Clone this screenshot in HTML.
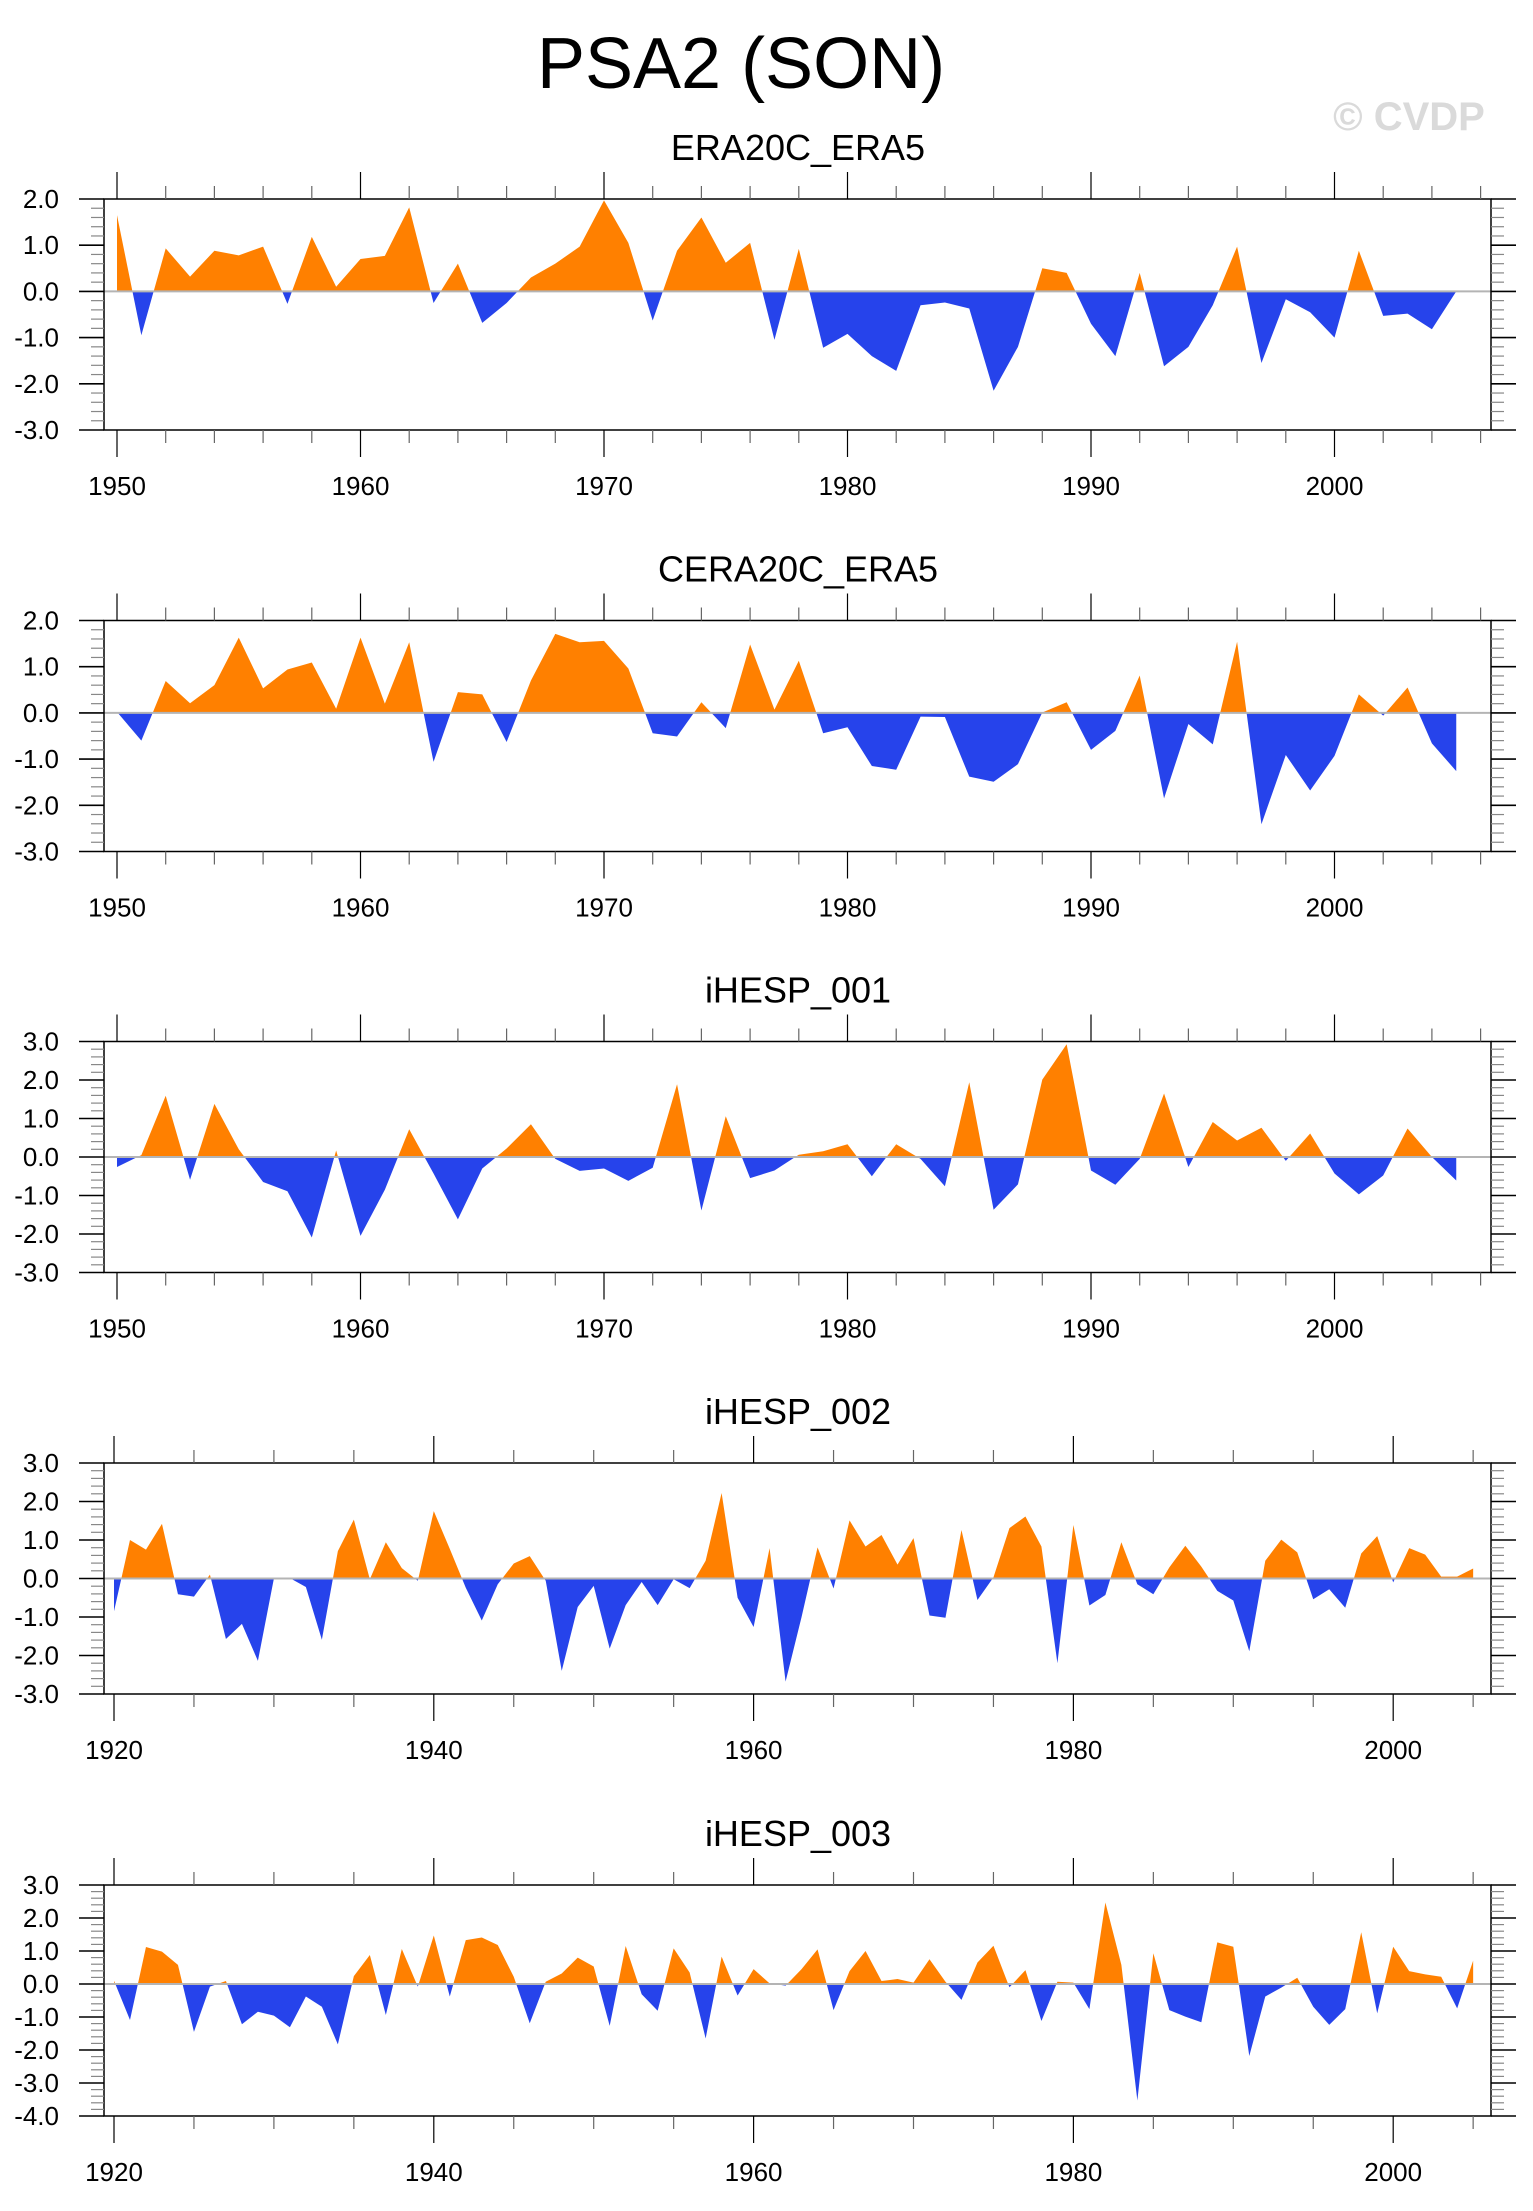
<!DOCTYPE html>
<html><head><meta charset="utf-8"><style>
html,body{margin:0;padding:0;background:#fff;}
svg{display:block;}
text{font-family:"Liberation Sans",Arial,sans-serif;}
</style></head><body>
<svg id="chart" width="1533" height="2211" viewBox="0 0 1533 2211" xmlns="http://www.w3.org/2000/svg">
<text x="741" y="88" font-size="72" text-anchor="middle" fill="#000">PSA2 (SON)</text>
<text x="1409" y="130" font-size="40" font-weight="bold" text-anchor="middle" fill="#dadada">© CVDP</text>
</svg>
<script>
const years1950 = [1950,1951,1952,1953,1954,1955,1956,1957,1958,1959,1960,1961,1962,1963,1964,1965,1966,1967,1968,1969,1970,1971,1972,1973,1974,1975,1976,1977,1978,1979,1980,1981,1982,1983,1984,1985,1986,1987,1988,1989,1990,1991,1992,1993,1994,1995,1996,1997,1998,1999,2000,2001,2002,2003,2004,2005];
const era20cValues = [1.65,-0.95,0.93,0.32,0.88,0.78,0.97,-0.27,1.18,0.1,0.7,0.77,1.82,-0.25,0.6,-0.68,-0.25,0.3,0.6,0.97,1.97,1.05,-0.63,0.88,1.6,0.62,1.05,-1.05,0.92,-1.22,-0.92,-1.4,-1.72,-0.3,-0.24,-0.37,-2.15,-1.2,0.5,0.4,-0.7,-1.4,0.4,-1.62,-1.2,-0.3,0.97,-1.55,-0.17,-0.45,-1.0,0.88,-0.53,-0.48,-0.82,0.0];
const cera20cValues = [0.02,-0.6,0.69,0.21,0.6,1.63,0.53,0.94,1.09,0.09,1.63,0.2,1.53,-1.06,0.45,0.4,-0.63,0.7,1.71,1.53,1.56,0.96,-0.44,-0.51,0.23,-0.33,1.48,0.07,1.13,-0.44,-0.31,-1.15,-1.23,-0.08,-0.09,-1.38,-1.49,-1.11,0.01,0.23,-0.8,-0.39,0.81,-1.85,-0.24,-0.68,1.54,-2.41,-0.91,-1.68,-0.93,0.4,-0.06,0.55,-0.66,-1.26];
const ihesp001Values = [-0.26,0.05,1.59,-0.59,1.38,0.2,-0.65,-0.89,-2.09,0.17,-2.05,-0.85,0.72,-0.43,-1.62,-0.3,0.22,0.85,-0.05,-0.36,-0.3,-0.62,-0.28,1.89,-1.39,1.06,-0.55,-0.35,0.06,0.15,0.33,-0.5,0.33,-0.05,-0.76,1.94,-1.37,-0.71,2.01,2.93,-0.35,-0.72,-0.05,1.65,-0.26,0.91,0.43,0.76,-0.1,0.61,-0.43,-0.97,-0.48,0.74,0.0,-0.61];
const years1920 = [];
for (let y = 1920; y <= 2005; y++) years1920.push(y);
const ihesp002Values = [-0.85,1.0,0.75,1.42,-0.41,-0.47,0.1,-1.57,-1.18,-2.14,0.0,0.01,-0.22,-1.59,0.71,1.53,-0.02,0.94,0.27,-0.06,1.75,0.77,-0.24,-1.09,-0.15,0.39,0.58,-0.06,-2.4,-0.74,-0.19,-1.82,-0.69,-0.09,-0.69,-0.02,-0.25,0.46,2.22,-0.5,-1.26,0.79,-2.68,-1.0,0.81,-0.26,1.51,0.83,1.13,0.36,1.05,-0.96,-1.02,1.26,-0.56,0.03,1.31,1.61,0.83,-2.2,1.39,-0.7,-0.43,0.94,-0.15,-0.41,0.29,0.85,0.31,-0.32,-0.57,-1.89,0.46,1.01,0.68,-0.54,-0.28,-0.76,0.65,1.1,-0.1,0.79,0.62,0.05,0.05,0.26];
const ihesp003Values = [0.1,-1.09,1.12,0.98,0.58,-1.45,-0.08,0.09,-1.22,-0.84,-0.96,-1.31,-0.38,-0.69,-1.83,0.24,0.88,-0.94,1.06,-0.08,1.47,-0.38,1.33,1.41,1.18,0.22,-1.19,0.07,0.32,0.8,0.53,-1.27,1.15,-0.31,-0.81,1.08,0.35,-1.65,0.83,-0.35,0.45,0.02,-0.05,0.45,1.05,-0.79,0.39,1.0,0.09,0.15,0.04,0.75,0.07,-0.48,0.65,1.16,-0.1,0.42,-1.12,0.07,0.04,-0.76,2.47,0.58,-3.53,0.93,-0.79,-0.99,-1.16,1.26,1.13,-2.18,-0.38,-0.11,0.19,-0.69,-1.24,-0.76,1.57,-0.89,1.13,0.39,0.29,0.22,-0.74,0.71];
const panelTitles = ["ERA20C_ERA5","CERA20C_ERA5","iHESP_001","iHESP_002","iHESP_003"];

const NS = "http://www.w3.org/2000/svg";
const svg = document.getElementById('chart');
function mk(tag, attrs, parent) {
  const e = document.createElementNS(NS, tag);
  for (const k in attrs) e.setAttribute(k, attrs[k]);
  (parent || svg).appendChild(e);
  return e;
}
const L = 104, R = 1491;
const panels = [
  {top:199, ymax:2, ymin:-3, years:years1950, vals:era20cValues, x0:1950, x0px:117, pxPerYear:24.35, major:10, minor:2, tmin:1950, tmax:2006},
  {top:620.5, ymax:2, ymin:-3, years:years1950, vals:cera20cValues, x0:1950, x0px:117, pxPerYear:24.35, major:10, minor:2, tmin:1950, tmax:2006},
  {top:1041.5, ymax:3, ymin:-3, years:years1950, vals:ihesp001Values, x0:1950, x0px:117, pxPerYear:24.35, major:10, minor:2, tmin:1950, tmax:2006},
  {top:1463, ymax:3, ymin:-3, years:years1920, vals:ihesp002Values, x0:1920, x0px:114, pxPerYear:15.99, major:20, minor:5, tmin:1920, tmax:2005},
  {top:1885, ymax:3, ymin:-4, years:years1920, vals:ihesp003Values, x0:1920, x0px:114, pxPerYear:15.99, major:20, minor:5, tmin:1920, tmax:2005}
];
const H = 231;
panels.forEach((p, i) => {
  const g = mk('g', {});
  
  
  const B = p.top + H;
  const xs = yr => p.x0px + (yr - p.x0) * p.pxPerYear;
  const ys = v => p.top + (p.ymax - v) / (p.ymax - p.ymin) * H;
  const t = mk('text', {x:798, y:p.top - 39, 'font-size':36, 'text-anchor':'middle', fill:'#000'}, g);
  t.textContent = panelTitles[i];
  
  
  const pts = [];
  for (let k = 0; k < p.years.length; k++) {
    const x = xs(p.years[k]), v = p.vals[k];
    if (k > 0) {
      const v0 = p.vals[k-1];
      if ((v0 > 0 && v < 0) || (v0 < 0 && v > 0)) {
        const x0 = xs(p.years[k-1]);
        pts.push([x0 + (x - x0) * (v0 / (v0 - v)), 0]);
      }
    }
    pts.push([x, v]);
  }
  const z = ys(0);
  const mkPath = f => {
    let d = 'M' + pts[0][0].toFixed(2) + ',' + z.toFixed(2);
    pts.forEach(q => { d += 'L' + q[0].toFixed(2) + ',' + ys(f(q[1])).toFixed(2); });
    d += 'L' + pts[pts.length-1][0].toFixed(2) + ',' + z.toFixed(2) + 'Z';
    return d;
  };
  const pos = mk('path', {d:mkPath(v => Math.max(v,0)), fill:'#ff8000'}, g);
  
  
  const neg = mk('path', {d:mkPath(v => Math.min(v,0)), fill:'#2643eb'}, g);
  
  
  const zl = mk('line', {x1:L, x2:R, y1:z, y2:z, stroke:'#b4b4b4', 'stroke-width':2}, g);
  
  
  const fr = mk('rect', {x:L, y:p.top, width:R-L, height:H, fill:'none', stroke:'#000', 'stroke-width':1.5}, g);
  
  
  for (let yr = p.tmin; yr <= p.tmax; yr += p.minor) {
    const x = xs(yr);
    if (x < L - 1 || x > R + 1) continue;
    const maj = (yr % p.major === 0);
    const len = maj ? 27 : 13;
    mk('line', {x1:x, x2:x, y1:p.top, y2:p.top - len, stroke: maj ? '#000' : '#666', 'stroke-width':1.2}, g);
    mk('line', {x1:x, x2:x, y1:B, y2:B + len, stroke: maj ? '#000' : '#666', 'stroke-width':1.2}, g);
    if (maj) {
      const lb = mk('text', {x:x, y:B + 65, 'font-size':26, 'text-anchor':'middle', fill:'#000'}, g);
      lb.textContent = yr;
      
      
    }
  }
  for (let k = Math.round(p.ymin*5); k <= Math.round(p.ymax*5); k++) {
    const v = k / 5, y = ys(v);
    const maj = (k % 5 === 0);
    const len = maj ? 25 : 13;
    mk('line', {x1:L, x2:L - len, y1:y, y2:y, stroke: maj ? '#000' : '#888', 'stroke-width': maj ? 1.6 : 1.2}, g);
    mk('line', {x1:R, x2:R + len, y1:y, y2:y, stroke: maj ? '#000' : '#888', 'stroke-width': maj ? 1.6 : 1.2}, g);
    if (maj) {
      const lb = mk('text', {x:59, y:y + 9, 'font-size':26, 'text-anchor':'end', fill:'#000'}, g);
      lb.textContent = v.toFixed(1);
      
      
    }
  }
});
</script>
</body></html>
